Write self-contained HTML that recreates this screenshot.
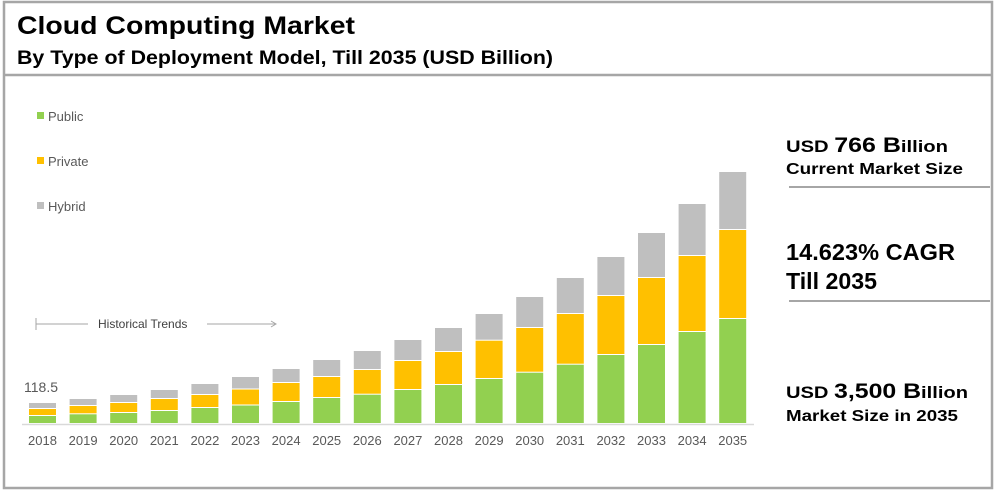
<!DOCTYPE html>
<html><head><meta charset="utf-8"><style>
body{margin:0;width:1000px;height:492px;background:#fff;overflow:hidden;font-family:"Liberation Sans",Arial,sans-serif}
svg text{font-family:"Liberation Sans",Arial,sans-serif}
</style></head><body>
<svg id="chart" width="1000" height="492">
  <rect x="4" y="2" width="988" height="486" fill="none" stroke="#a6a6a6" stroke-width="2.5"/>
  <line x1="4" y1="75" x2="992" y2="75" stroke="#a6a6a6" stroke-width="2.5"/>
  <text x="17" y="34" font-size="25" font-weight="bold" fill="#000" textLength="338" lengthAdjust="spacingAndGlyphs">Cloud Computing Market</text>
  <text x="17" y="64" font-size="19" font-weight="bold" fill="#000" textLength="536" lengthAdjust="spacingAndGlyphs">By Type of Deployment Model, Till 2035 (USD Billion)</text>

  <g>
    <rect x="37" y="112" width="7" height="7" fill="#92d050"/>
    <text x="48" y="121" font-size="13" fill="#595959">Public</text>
    <rect x="37" y="157" width="7" height="7" fill="#ffc000"/>
    <text x="48" y="166" font-size="13" fill="#595959">Private</text>
    <rect x="37" y="202" width="7" height="7" fill="#bfbfbf"/>
    <text x="48" y="211" font-size="13" fill="#595959">Hybrid</text>
  </g>

  <g>
    <line x1="36" y1="318" x2="36" y2="330" stroke="#a6a6a6" stroke-width="1"/>
    <line x1="36" y1="324" x2="88" y2="324" stroke="#a6a6a6" stroke-width="1"/>
    <text x="98" y="328" font-size="12" fill="#404040">Historical Trends</text>
    <line x1="207" y1="324" x2="275" y2="324" stroke="#a6a6a6" stroke-width="1"/>
    <path d="M271,321 L276,324 L271,327" fill="none" stroke="#a6a6a6" stroke-width="1"/>
  </g>
  <text x="24" y="392" font-size="14" fill="#595959">118.5</text>

  <line x1="22" y1="424.5" x2="754" y2="424.5" stroke="#d9d9d9" stroke-width="1.5"/>
  <g id="bars"></g>
  <g id="xlabels"></g>

  <g>
    <text x="786" y="152" font-weight="bold" fill="#000" textLength="162" lengthAdjust="spacingAndGlyphs"><tspan font-size="17">USD </tspan><tspan font-size="21">766 B</tspan><tspan font-size="17">illion</tspan></text>
    <text x="786" y="174" font-size="16" font-weight="bold" fill="#000" textLength="177" lengthAdjust="spacingAndGlyphs">Current Market Size</text>
    <line x1="789" y1="187" x2="990" y2="187" stroke="#a6a6a6" stroke-width="2"/>
    <text x="786" y="260" font-size="23" font-weight="bold" fill="#000" textLength="169" lengthAdjust="spacingAndGlyphs">14.623% CAGR</text>
    <text x="786" y="289" font-size="23" font-weight="bold" fill="#000" textLength="91" lengthAdjust="spacingAndGlyphs">Till 2035</text>
    <line x1="789" y1="301" x2="990" y2="301" stroke="#a6a6a6" stroke-width="2"/>
    <text x="786" y="398" font-weight="bold" fill="#000" textLength="182" lengthAdjust="spacingAndGlyphs"><tspan font-size="17">USD </tspan><tspan font-size="21">3,500 B</tspan><tspan font-size="17">illion</tspan></text>
    <text x="786" y="421" font-size="16" font-weight="bold" fill="#000" textLength="172" lengthAdjust="spacingAndGlyphs">Market Size in 2035</text>
  </g>
</svg>
<script>
const years = ["2018","2019","2020","2021","2022","2023","2024","2025","2026","2027","2028","2029","2030","2031","2032","2033","2034","2035"];
const publicVals = [8,9.7,11,13,16,18.5,22,26,29.3,34,39,45,51.3,59.3,69,79,92,105];
const privateVals = [7,8.3,10,12,13,16,19,21,24.7,29,33,38.3,44.7,50.7,59,67,76,89];
const hybridVals = [6,7,8,9,11,12.5,14,17,19,21,24,26.7,31,36,39,45,52,58];

const NS = "http://www.w3.org/2000/svg";
const baseY = 424, firstX = 42.5, pitch = 40.6, barW = 27, pxPerUnit = 1;
function xC(i){ return firstX + i*pitch; }
function yS(v){ return v*pxPerUnit; }
const bars = document.getElementById('bars');
const xl = document.getElementById('xlabels');
const series = [[publicVals,"#92d050","public"],[privateVals,"#ffc000","private"],[hybridVals,"#bfbfbf","hybrid"]];
years.forEach((yr,i)=>{
  let acc = 0;
  series.forEach(([vals,color,name])=>{
    const h = yS(vals[i]);
    const r = document.createElementNS(NS,'rect');
    r.setAttribute('x', xC(i)-barW/2);
    r.setAttribute('y', baseY - yS(acc) - h);
    r.setAttribute('width', barW);
    r.setAttribute('height', Math.max(0,h-1));
    r.setAttribute('fill', color);
    
    
    bars.appendChild(r);
    acc += vals[i];
  });
  const t = document.createElementNS(NS,'text');
  t.setAttribute('x', xC(i));
  t.setAttribute('y', 445);
  t.setAttribute('text-anchor','middle');
  t.setAttribute('font-size','13');
  t.setAttribute('fill','#595959');
  t.textContent = yr;
  
  
  xl.appendChild(t);
});
</script>
</body></html>
